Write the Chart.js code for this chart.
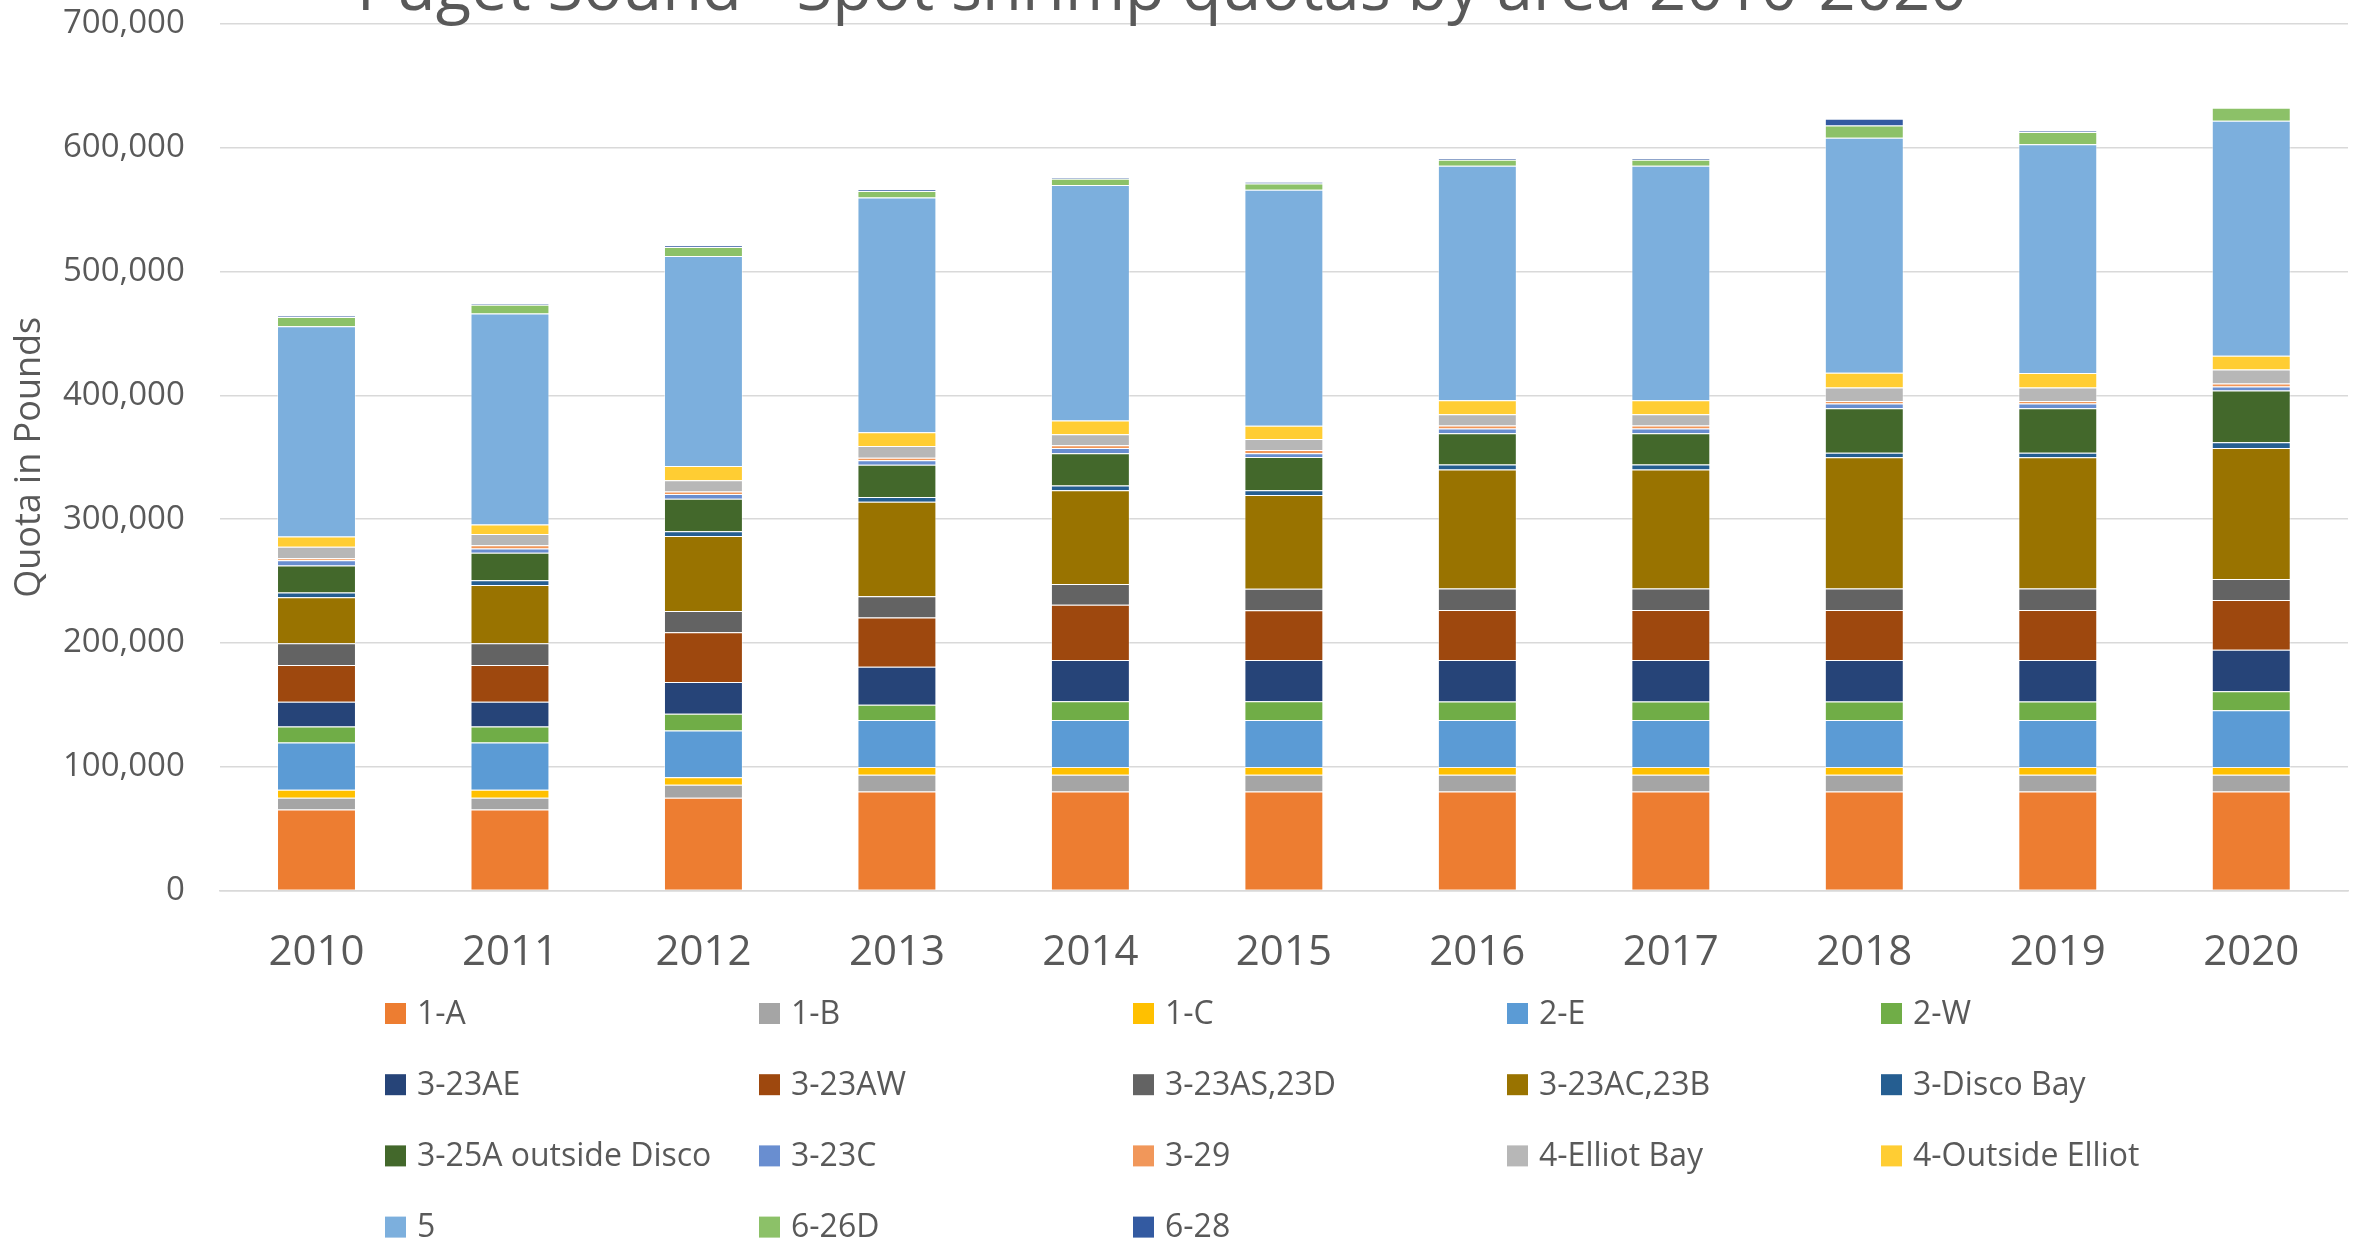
<!DOCTYPE html>
<html>
<head>
<meta charset="utf-8">
<script src="https://cdn.jsdelivr.net/npm/chart.js@4.4.1/dist/chart.umd.min.js"></script>
<style>
html,body{margin:0;padding:0;background:#ffffff;overflow:hidden}
canvas{display:block}
</style>
</head>
<body>
<canvas id="c" width="2379" height="1243"></canvas>
<script>
// ---------- data ----------
const TITLE = 'Puget Sound - Spot shrimp quotas by area 2010-2020';
const Y_TITLE = 'Quota in Pounds';
const years = ['2010','2011','2012','2013','2014','2015','2016','2017','2018','2019','2020'];
const seriesNames = ['1-A','1-B','1-C','2-E','2-W','3-23AE','3-23AW','3-23AS,23D','3-23AC,23B','3-Disco Bay',
  '3-25A outside Disco','3-23C','3-29','4-Elliot Bay','4-Outside Elliot','5','6-26D','6-28'];

const q1A      = [65500, 65500, 75000, 80000, 80000, 80000, 80000, 80000, 80000, 80000, 80000];
const q1B      = [9600, 9600, 10400, 13600, 13500, 13500, 13500, 13500, 13500, 13500, 13500];
const q1C      = [6400, 6400, 6100, 6300, 6300, 6300, 6300, 6300, 6300, 6300, 6300];
const q2E      = [38200, 38200, 37900, 38000, 38000, 38000, 38000, 38000, 38000, 38000, 45900];
const q2W      = [12900, 12900, 13400, 12300, 15200, 15200, 14900, 14900, 14900, 14900, 15300];
const q3_23AE  = [19900, 19900, 25700, 30600, 33300, 33300, 33500, 33500, 33500, 33500, 33600];
const q3_23AW  = [29800, 29800, 40200, 39800, 44500, 40200, 40500, 40500, 40500, 40500, 40100];
const q3_23AS  = [17400, 17400, 17200, 17200, 16800, 17300, 17400, 17400, 17400, 17400, 17000];
const q3_23AC  = [37200, 47200, 60500, 76200, 75800, 75800, 96000, 96000, 105900, 105900, 105900];
const q3Disco  = [3900, 3800, 3800, 3900, 3800, 3800, 4100, 4100, 3700, 3700, 4500];
const q3_25A   = [21800, 22200, 26400, 26000, 26100, 26800, 25300, 25300, 36000, 36000, 41800];
const q3_23C   = [4200, 3500, 3800, 3800, 4200, 3100, 3700, 3700, 3800, 3800, 3300];
const q3_29    = [1600, 2600, 2000, 1900, 2300, 2600, 2500, 2500, 2000, 2000, 2500];
const q4Elliot = [9300, 9000, 9100, 9600, 8800, 8900, 9100, 9100, 10800, 10800, 11200];
const q4Out    = [8300, 7700, 11500, 11100, 11100, 10700, 11200, 11200, 12000, 11700, 11100];
const q5       = [169900, 170400, 169600, 189500, 190300, 190600, 189400, 189400, 189900, 184800, 189900];
const q6_26D   = [7400, 7100, 7300, 5400, 4900, 5000, 5000, 5000, 9900, 9900, 10400];
const q6_28    = [1000, 1000, 1000, 1100, 1200, 1200, 1200, 1200, 5400, 800, 0];

const seriesValues = [q1A,q1B,q1C,q2E,q2W,q3_23AE,q3_23AW,q3_23AS,q3_23AC,q3Disco,
  q3_25A,q3_23C,q3_29,q4Elliot,q4Out,q5,q6_26D,q6_28];

const yTicks = [0,100000,200000,300000,400000,500000,600000,700000];

// ---------- styles ----------
const colors = ['#ED7D31','#A5A5A5','#FFC000','#5B9BD5','#70AD47','#264478','#9E480E','#636363','#997300','#255E91',
  '#43682B','#698ED0','#F1975A','#B7B7B7','#FFCD33','#7CAFDD','#8CC168','#335AA1'];
const FONT = '"Open Sans", "Liberation Sans", sans-serif';
const TEXT = '#595959';
const GRID = '#d9d9d9';

// title / axis-title / legend placement
const TITLE_X = 1162, TITLE_BASE = 10, TITLE_SIZE = 65;
const YT_X = 30, YT_SIZE = 36;
const LEG_X0 = 385, LEG_DX = 374, LEG_Y0 = 1013.5, LEG_DY = 71.2, LEG_COLS = 5, LEG_BOX = 21, LEG_FONT = 32, LEG_GAP = 32;

const textDecor = {
  id: 'textDecor',
  afterDraw(chart) {
    const ctx = chart.ctx;
    const area = chart.chartArea;
    ctx.save();
    // chart title (cut off at the top, as in the reference)
    ctx.fillStyle = TEXT;
    ctx.font = TITLE_SIZE + 'px ' + FONT;
    ctx.textAlign = 'center';
    ctx.textBaseline = 'alphabetic';
    ctx.fillText(TITLE, TITLE_X, TITLE_BASE);
    // y axis title
    ctx.save();
    ctx.translate(YT_X, (area.top + area.bottom) / 2);
    ctx.rotate(-Math.PI / 2);
    ctx.font = YT_SIZE + 'px ' + FONT;
    ctx.textAlign = 'center';
    ctx.textBaseline = 'middle';
    ctx.fillText(Y_TITLE, 0, 0);
    ctx.restore();
    // legend in a 5-column grid
    ctx.font = LEG_FONT + 'px ' + FONT;
    ctx.textBaseline = 'middle';
    ctx.textAlign = 'left';
    chart.data.datasets.forEach((ds, i) => {
      const col = i % LEG_COLS, row = Math.floor(i / LEG_COLS);
      const x = LEG_X0 + col * LEG_DX;
      const y = LEG_Y0 + row * LEG_DY;
      ctx.fillStyle = ds.backgroundColor;
      ctx.fillRect(x, y - LEG_BOX / 2, LEG_BOX, LEG_BOX);
      ctx.fillStyle = TEXT;
      ctx.fillText(ds.label, x + LEG_GAP, y + 1);
    });
    ctx.restore();
  }
};

const datasets = seriesNames.map((name, i) => ({
  label: name,
  data: seriesValues[i],
  backgroundColor: colors[i],
  borderColor: 'rgba(255,255,255,0.45)',
  borderWidth: 1,
  barPercentage: 0.408,
  categoryPercentage: 1.0
}));

new Chart(document.getElementById('c'), {
  type: 'bar',
  data: { labels: years, datasets },
  plugins: [textDecor],
  options: {
    responsive: false,
    animation: false,
    devicePixelRatio: 1,
    layout: { padding: { left: 28, right: 31, top: 4, bottom: 228 } },
    plugins: {
      legend: { display: false },
      tooltip: { enabled: false },
      title: { display: false }
    },
    scales: {
      x: {
        stacked: true,
        grid: { display: false, drawTicks: false },
        border: { display: true, color: GRID, width: 1.5 },
        ticks: { color: TEXT, font: { family: FONT, size: 42 }, padding: 37 }
      },
      y: {
        stacked: true,
        min: 0,
        max: 700000,
        afterBuildTicks: (scale) => { scale.ticks = yTicks.map(v => ({ value: v })); },
        afterFit: (scale) => { scale.paddingTop = 24; scale.paddingBottom = 20; },
        grid: { color: GRID, lineWidth: 1.5, drawTicks: false },
        border: { display: false },
        ticks: {
          color: TEXT,
          font: { family: FONT, size: 33 },
          padding: 35,
          callback: (v) => Number(v).toLocaleString('en-US')
        },
        title: { display: false }
      }
    }
  }
});
</script>
</body>
</html>
